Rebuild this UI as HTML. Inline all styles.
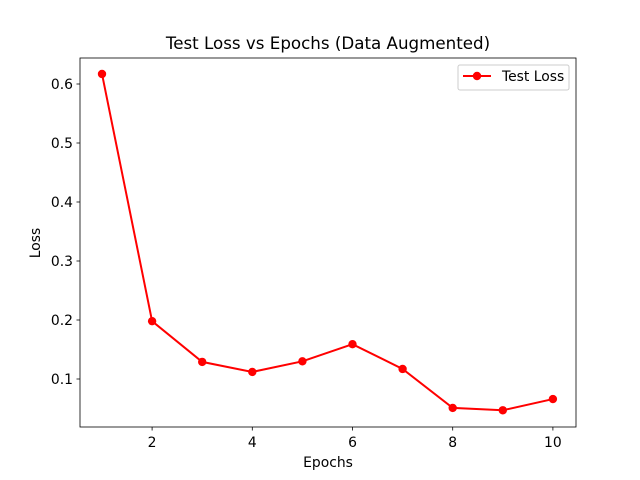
<!DOCTYPE html>
<html><head><meta charset="utf-8"><style>
body{margin:0;background:#fff;}
svg{display:block;font-family:"DejaVu Sans","Liberation Sans",sans-serif;}
</style></head><body>
<svg id="chart" width="640" height="480" viewBox="0 0 640 480">
<rect width="640" height="480" fill="#fff"/>
<text x="328" y="49" font-size="16.7" text-anchor="middle">Test Loss vs Epochs (Data Augmented)</text>
<g id="ticks"></g>
<g id="series"></g>
<rect x="80" y="58" width="496" height="369" fill="none" stroke="#000" stroke-width="0.8"/>
<text x="328" y="467" font-size="13.9" text-anchor="middle">Epochs</text>
<text x="40" y="243" font-size="13.9" text-anchor="middle" transform="rotate(-90 40 243)">Loss</text>
<g>
<rect x="458" y="65" width="111" height="25" rx="2" fill="#fff" stroke="#ccc"/>
<line x1="463" y1="76" x2="491" y2="76" stroke="red" stroke-width="2"/>
<circle cx="477" cy="76" r="4.2" fill="red"/>
<text x="502" y="81" font-size="13.9">Test Loss</text>
</g>
</svg>
<script>
const epochs=[1,2,3,4,5,6,7,8,9,10];
const loss=[0.617,0.198,0.129,0.112,0.130,0.159,0.117,0.051,0.047,0.066];
const xTicks=[2,4,6,8,10];
const yTicks=[0.1,0.2,0.3,0.4,0.5,0.6];
const NS="http://www.w3.org/2000/svg";
function xs(v){return 102+(v-1)*50.1;}
function ys(v){return 379-(v-0.1)*590;}
const tg=document.getElementById('ticks');
function mk(tag,attrs,parent){const e=document.createElementNS(NS,tag);for(const k in attrs)e.setAttribute(k,attrs[k]);parent.appendChild(e);return e;}
xTicks.forEach(t=>{
 const l=mk('line',{x1:xs(t),x2:xs(t),y1:427,y2:430.5,stroke:'#000','stroke-width':0.8},tg);
 
 
 const tx=mk('text',{x:xs(t),y:447,'font-size':13.9,'text-anchor':'middle'},tg);
 tx.textContent=t;
 
 
});
yTicks.forEach(t=>{
 const l=mk('line',{x1:76.5,x2:80,y1:ys(t),y2:ys(t),stroke:'#000','stroke-width':0.8},tg);
 
 
 const tx=mk('text',{x:73,y:ys(t)+5,'font-size':13.9,'text-anchor':'end'},tg);
 tx.textContent=t.toFixed(1);
 
 
});
const sg=document.getElementById('series');
const pl=mk('polyline',{points:epochs.map((e,i)=>xs(e)+','+ys(loss[i])).join(' '),fill:'none',stroke:'red','stroke-width':2},sg);


epochs.forEach((e,i)=>{
 const c=mk('circle',{cx:xs(e),cy:ys(loss[i]),r:4.2,fill:'red'},sg);
 
 
});
</script>
</body></html>
